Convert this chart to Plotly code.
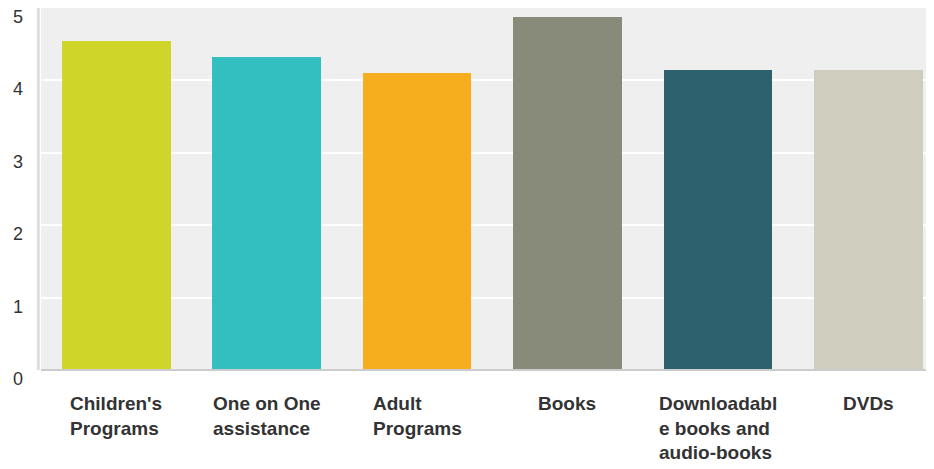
import plotly.graph_objects as go

categories = ["Children's Programs", "One on One assistance", "Adult Programs",
              "Books", "Downloadable books and audio-books", "DVDs"]
tick_labels = ["Children's<br>Programs", "One on One<br>assistance", "Adult<br>Programs",
               "Books", "Downloadabl<br>e books and<br>audio-books", "DVDs"]
values = [4.545, 4.325, 4.105, 4.87, 4.145, 4.145]
colors = ["#D0D52A", "#33BEBF", "#F6AE1F", "#888A7A", "#2D616D", "#CFCDBE"]
y_ticks = [0, 1, 2, 3, 4, 5]

FONT = "Liberation Sans, Arial, sans-serif"

fig = go.Figure()
fig.add_trace(go.Bar(
    x=list(range(len(categories))), y=values,
    marker=dict(color=colors, line=dict(width=0)),
    width=0.722, hovertext=categories,
))

for i, lab in enumerate(tick_labels):
    fig.add_annotation(
        x=i, y=0, xref="x", yref="paper", text=lab,
        xanchor="center", yanchor="top", align="left", showarrow=False,
        yshift=-21,
        font=dict(family=FONT, size=19, color="#333333", weight="bold"),
    )

for t in y_ticks:
    fig.add_annotation(
        x=0, y=t, xref="paper", yref="y", text=str(t),
        xanchor="right", yanchor="middle", showarrow=False,
        xshift=-16, yshift=-9,
        font=dict(family=FONT, size=18, color="#333333"),
    )

fig.update_layout(
    width=926, height=461,
    margin=dict(l=33, r=0, t=0, b=99),
    paper_bgcolor="white", plot_bgcolor="#EFEFEF",
    showlegend=False, bargap=0,
    font=dict(family=FONT, color="#333333"),
)
fig.update_xaxes(
    range=[-0.5, 5.437], showticklabels=False, showgrid=False, zeroline=False,
    showline=False, fixedrange=True,
)
fig.update_yaxes(
    range=[0, 5], tickvals=y_ticks, showticklabels=False, showgrid=True,
    gridcolor="white", gridwidth=2, zeroline=False, showline=False,
)
fig.add_shape(type="line", xref="paper", yref="paper", x0=-0.003, x1=-0.003, y0=0, y1=1,
              line=dict(color="#DDDDDD", width=3))
fig.add_shape(type="line", xref="paper", yref="paper", x0=0, x1=1, y0=0, y1=0,
              line=dict(color="#CCCCCC", width=2))

fig.write_html("out.html")
